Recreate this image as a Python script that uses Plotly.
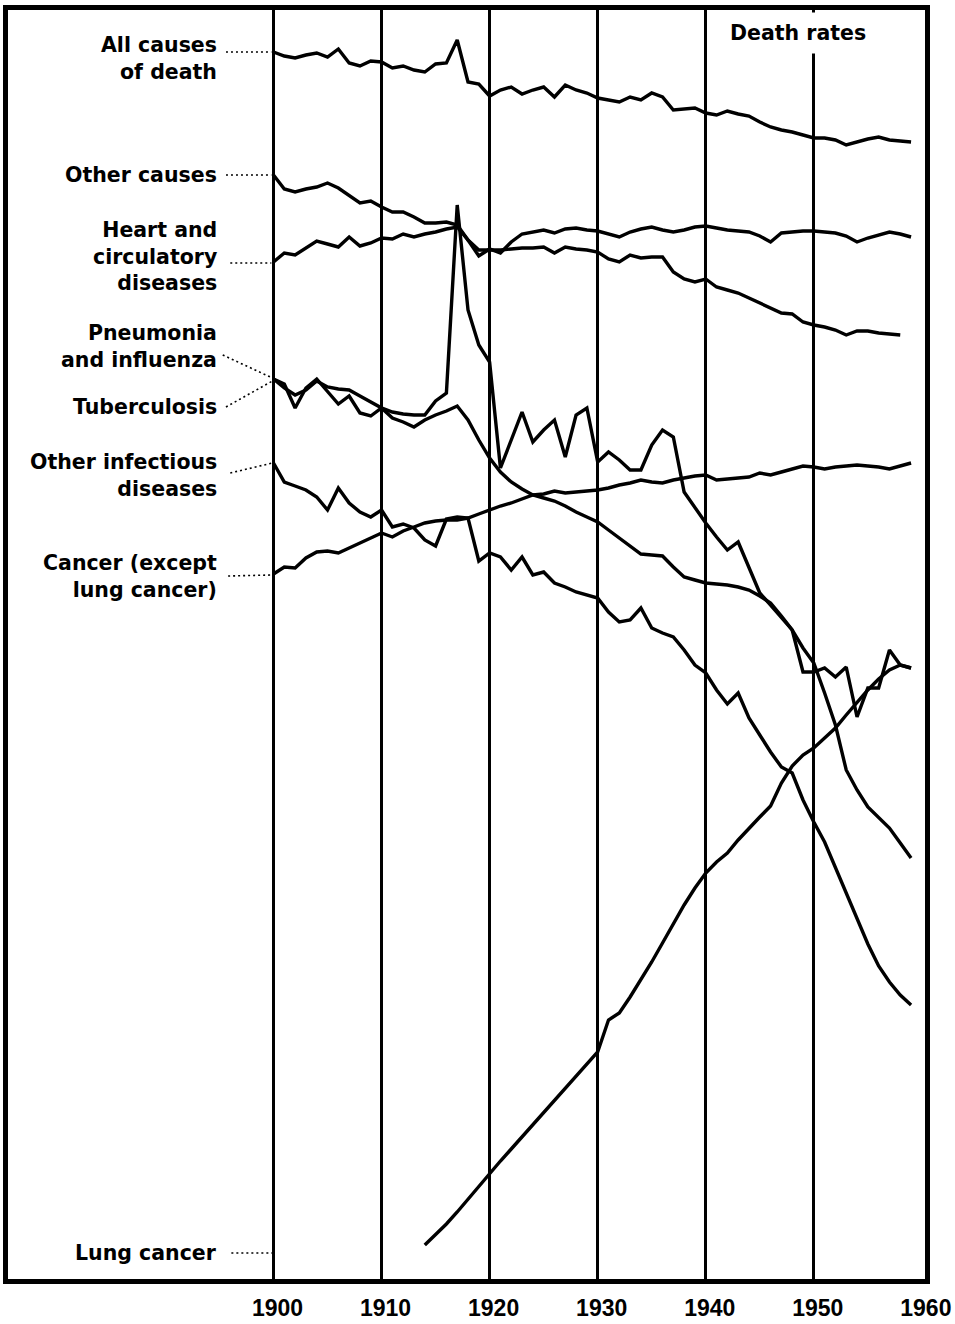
import plotly.graph_objects as go

# Death rates by cause, relative log-scale index (higher = larger rate)
all_causes = [1227, 1223, 1221, 1224, 1226, 1222, 1230, 1216, 1213, 1218,
              1217, 1211, 1213, 1209, 1207, 1215, 1216, 1239, 1197, 1195,
              1183, 1189, 1192, 1185, 1189, 1192, 1182, 1194, 1189, 1186,
              1181, 1179, 1177, 1182, 1179, 1186, 1182, 1169, 1170, 1171,
              1166, 1164, 1168, 1165, 1163, 1157, 1152, 1149, 1147, 1144,
              1141, 1141, 1139, 1134, 1137, 1140, 1142, 1139, 1138, 1137]

other_causes = [1104, 1090, 1087, 1090, 1092, 1096, 1091, 1083, 1076, 1078,
                1072, 1067, 1067, 1062, 1056, 1056, 1057, 1054, 1039, 1029,
                1029, 1029, 1030, 1031, 1031, 1032, 1026, 1032, 1030, 1029,
                1027, 1020, 1017, 1024, 1021, 1022, 1022, 1007, 1000, 997,
                1000, 992, 989, 986, 981, 976, 971, 966, 965, 957,
                954, 952, 949, 944, 948, 948, 946, 945, 944]

heart = [1017, 1026, 1024, 1031, 1038, 1035, 1032, 1042, 1033, 1036,
         1041, 1040, 1045, 1042, 1045, 1047, 1050, 1052, 1039, 1023,
         1030, 1026, 1037, 1045, 1047, 1049, 1046, 1050, 1051, 1049,
         1048, 1045, 1042, 1047, 1050, 1052, 1049, 1047, 1049, 1052,
         1053, 1051, 1049, 1048, 1047, 1043, 1037, 1046, 1047, 1048,
         1048, 1047, 1046, 1043, 1037, 1041, 1044, 1047, 1045, 1042]

pneumonia = [900, 895, 871, 891, 900, 887, 875, 883, 866, 863,
             871, 867, 865, 864, 864, 878, 886, 1074, 969, 934,
             917, 811, 839, 867, 837, 849, 859, 822, 864, 871,
             817, 827, 819, 809, 809, 834, 849, 842, 787, 771,
             756, 742, 729, 737, 711, 686, 674, 661, 649, 607,
             607, 611, 602, 612, 562, 591, 591, 629, 614, 611]

tuberculosis = [900, 891, 884, 889, 898, 892, 890, 889, 883, 877,
                871, 861, 857, 852, 859, 864, 868, 873, 859, 839,
                821, 807, 797, 790, 784, 781, 778, 773, 767, 762,
                757, 749, 741, 733, 725, 724, 723, 712, 702, 699,
                696, 695, 694, 692, 689, 683, 676, 663, 649, 631,
                616, 586, 554, 509, 489, 472, 462, 451, 436, 421]

other_infectious = [816, 797, 793, 789, 782, 769, 791, 776, 767, 762,
                    769, 752, 755, 751, 739, 733, 760, 762, 761, 718,
                    726, 722, 709, 722, 704, 707, 696, 692, 687, 684,
                    681, 667, 657, 659, 671, 651, 646, 642, 629, 614,
                    606, 589, 575, 586, 561, 544, 527, 512, 506, 479,
                    457, 437, 411, 387, 361, 335, 313, 297, 284, 274]

cancer = [705, 712, 711, 721, 727, 728, 726, 731, 736, 741,
          746, 742, 748, 752, 756, 758, 759, 759, 761, 765,
          769, 773, 776, 780, 784, 785, 788, 786, 787, 788,
          789, 791, 794, 796, 799, 797, 796, 799, 801, 803,
          804, 799, 800, 801, 802, 806, 804, 807, 810, 813,
          812, 810, 812, 813, 814, 813, 812, 810, 813, 816]

lung_cancer = [34, 44, 55, 67, 80, 93,
               106, 118, 130, 142, 154, 166, 179, 191, 203, 215,
               227, 259, 266, 282, 299, 317, 336, 355, 374, 391,
               406, 417, 426, 439, 451, 462, 473, 496, 513, 524,
               531, 541, 551, 564, 577, 589, 600, 609, 614, 611]

series = [
    (1900, all_causes), (1900, other_causes), (1900, heart),
    (1900, pneumonia), (1900, tuberculosis), (1900, other_infectious),
    (1900, cancer), (1914, lung_cancer),
]

decades = [1900, 1910, 1920, 1930, 1940, 1950]
tick_years = [1900, 1910, 1920, 1930, 1940, 1950, 1960]
tick_labels = ["1900", "1910", "1920", "1930", "1940", "1950", "1960"]

# Cause labels: text, anchor value, leader start (year, value), leader end (year, value)
labels = [
    ("All causes<br>of death", 1221, (1895.6, 1227), (1899.8, 1227)),
    ("Other causes", 1104, (1895.6, 1104), (1899.8, 1104)),
    ("Heart and<br>circulatory<br>diseases", 1023, (1896.0, 1016), (1899.8, 1016)),
    ("Pneumonia<br>and influenza", 933, (1895.3, 924), (1899.9, 901)),
    ("Tuberculosis", 872, (1895.6, 872), (1899.9, 898)),
    ("Other infectious<br>diseases", 804, (1896.0, 806), (1899.9, 816)),
    ("Cancer (except<br>lung cancer)", 703, (1895.8, 703), (1899.9, 704)),
    ("Lung cancer", 26, (1896.1, 26), (1900.0, 26)),
]

fig = go.Figure()
for start, vals in series:
    fig.add_trace(go.Scatter(
        x=list(range(start, start + len(vals))), y=vals, mode="lines",
        line=dict(color="black", width=3.4), hoverinfo="skip", showlegend=False,
    ))

label_font = dict(family="DejaVu Sans", size=20.5, color="black", weight="bold")
annotations = []
shapes = []
for text, yv, (x0, y0), (x1, y1) in labels:
    annotations.append(dict(
        x=1895.0, y=yv, xref="x", yref="y", text=text, showarrow=False,
        xanchor="right", yanchor="middle", align="right", font=label_font,
    ))
    shapes.append(dict(
        type="line", xref="x", yref="y", x0=x0, y0=y0, x1=x1, y1=y1,
        line=dict(color="black", width=1.6, dash="2px,3px"),
    ))

annotations.append(dict(
    x=1948.5, y=1246, xref="x", yref="y", text="Death rates", showarrow=False,
    xanchor="center", yanchor="middle", font=label_font,
    bgcolor="white", borderpad=8,
))

fig.update_layout(
    width=955, height=1324,
    margin=dict(l=8, r=30, t=10, b=45),
    paper_bgcolor="white", plot_bgcolor="white",
    annotations=annotations, shapes=shapes,
    xaxis=dict(
        range=[1875.43, 1960.29], showgrid=False, zeroline=False,
        automargin=False,
        tickmode="array", tickvals=tick_years, ticktext=tick_labels,
        tickfont=dict(family="Liberation Sans", size=23, color="black", weight="bold"),
        ticks="", ticklabelstandoff=5, ticklabelshift=4,
        showline=True, mirror=True, linecolor="black", linewidth=4.5,
        minor=dict(tickmode="array", tickvals=decades, showgrid=True,
                   gridcolor="black", gridwidth=3, ticks=""),
    ),
    yaxis=dict(
        range=[0, 1269], showgrid=False, zeroline=False, showticklabels=False,
        automargin=False,
        ticks="", showline=True, mirror=True, linecolor="black", linewidth=4.5,
    ),
)

fig.write_html("out.html")
